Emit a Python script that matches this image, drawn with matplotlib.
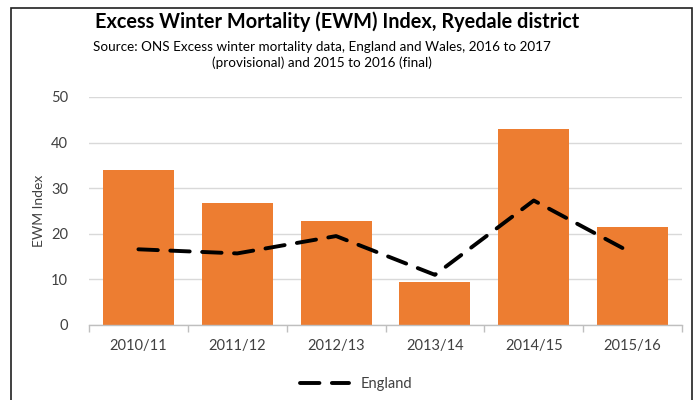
import matplotlib
matplotlib.use("Agg")
import matplotlib.pyplot as plt
from matplotlib.lines import Line2D
from matplotlib.patches import Rectangle
import numpy as np

categories = ["2010/11", "2011/12", "2012/13", "2013/14", "2014/15", "2015/16"]
ryedale = [34.1, 26.7, 22.9, 9.5, 43.0, 21.6]
england = [16.6, 15.7, 19.5, 11.0, 27.3, 15.7]
yticks = [0, 10, 20, 30, 40, 50]

plt.rcParams['font.family'] = ['Lato', 'DejaVu Sans']

W, H = 697, 400
fig = plt.figure(figsize=(W / 100, H / 100), dpi=100)
ax = fig.add_axes([89 / W, (H - 325) / H, (682 - 89) / W, (325 - 97) / H])

x = np.arange(len(categories))
ax.bar(x, ryedale, width=0.72, color="#ED7D31", zorder=2)
ax.plot(x, england, color="black", lw=2.8, dashes=(5, 3.2),
        dash_capstyle="round", solid_capstyle="round", zorder=3)

ax.set_xlim(-0.5, len(categories) - 0.5)
ax.set_ylim(0, 50)
ax.set_yticks(yticks)
ax.set_yticklabels([str(v) for v in yticks], fontsize=10.5, color="#404040")
ax.tick_params(axis="y", length=0, pad=15)
ax.grid(axis="y", color="#d9d9d9", lw=1, zorder=0)
ax.set_axisbelow(True)

ax.set_xticks(x)
ax.set_xticklabels(categories, fontsize=10.5, color="#404040")
ax.tick_params(axis="x", length=0, pad=10)
ax.set_xticks(np.arange(-0.5, len(categories)), minor=True)
ax.tick_params(axis="x", which="minor", length=5, color="#bfbfbf", width=1)

for s in ["top", "right", "left"]:
    ax.spines[s].set_visible(False)
ax.spines["bottom"].set_color("#bfbfbf")
ax.spines["bottom"].set_linewidth(1)

ax.set_ylabel("EWM Index", fontsize=10, color="#404040", labelpad=4)

fig.text(337 / W, 1 - 22 / H, "Excess Winter Mortality (EWM) Index, Ryedale district",
         ha="center", va="center", fontsize=14.3, fontweight="bold", color="black")
fig.text(322 / W, 1 - 55 / H,
         "Source: ONS Excess winter mortality data, England and Wales, 2016 to 2017\n(provisional) and 2015 to 2016 (final)",
         ha="center", va="center", fontsize=9.7, color="black", multialignment="center",
         linespacing=1.25)

# legend
handle = Line2D([0], [0], color="black", lw=2.8, dashes=(5, 3.2), dash_capstyle="round")
fig.legend([handle], ["England"], loc="center", bbox_to_anchor=(356 / W, 1 - 384 / H),
           frameon=False, fontsize=10.5, handlelength=3.4, labelcolor="#404040")

# outer frame
fig.patches.append(Rectangle((11 / W, -0.05), (692 - 11) / W, (H - 8) / H + 0.05,
                             transform=fig.transFigure, fill=False, edgecolor="#202020", lw=1.2))

fig.savefig("out.png", dpi=100)
